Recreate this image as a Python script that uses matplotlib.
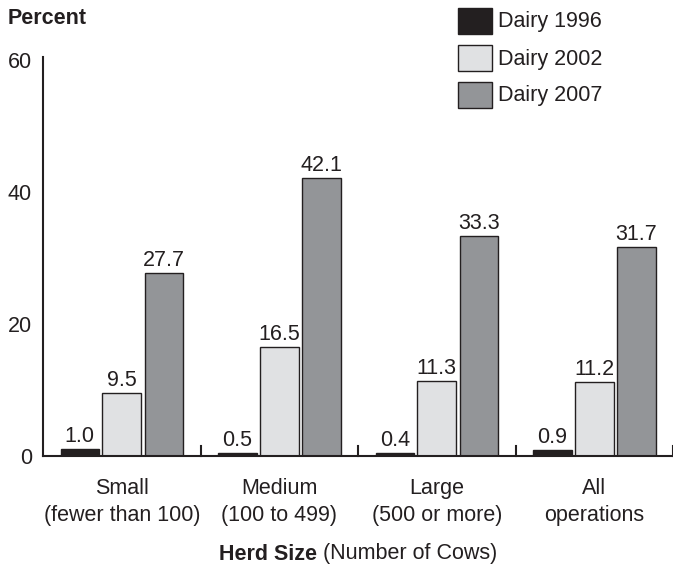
import numpy as np
import matplotlib
matplotlib.use('Agg')
import matplotlib.pyplot as plt
from matplotlib.patches import Rectangle

plt.rcParams['font.family'] = ['Liberation Sans', 'DejaVu Sans']

categories = ['Small\n(fewer than 100)', 'Medium\n(100 to 499)', 'Large\n(500 or more)', 'All\noperations']
series = ['Dairy 1996', 'Dairy 2002', 'Dairy 2007']
dairy_1996 = [1.0, 0.5, 0.4, 0.9]
dairy_2002 = [9.5, 16.5, 11.3, 11.2]
dairy_2007 = [27.7, 42.1, 33.3, 31.7]
colors = ['#231f20', '#e0e1e3', '#939598']
edge = '#231f20'
fs = 15.5

fig = plt.figure(figsize=(6.73, 5.69), dpi=100)
ax = fig.add_axes([43 / 673, 1 - 456 / 569, 1 - 43 / 673, (456 - 57) / 569])

x = np.arange(len(categories))
width = 0.245
offsets = [-0.266, 0.0, 0.268]
for vals, off, c in zip([dairy_1996, dairy_2002, dairy_2007], offsets, colors):
    bars = ax.bar(x + off, vals, width, color=c, edgecolor=edge, linewidth=1.0)
    for b, v in zip(bars, vals):
        ax.annotate(f'{v:.1f}', (b.get_x() + b.get_width() / 2, v),
                    xytext=(0, 1.5), textcoords='offset points',
                    ha='center', va='bottom', fontsize=fs, color='#231f20')

# small separators between herd sizes
for s in [0.5, 1.5, 2.5, 3.5]:
    ax.plot([s, s], [0, 1.5], color=edge, lw=1.5, clip_on=False)

ax.set_xlim(-0.5, 3.5)
ax.set_ylim(0, 60.5)
ax.set_yticks([0, 20, 40, 60])
ax.set_xticks(x)
ax.set_xticklabels(categories, fontsize=fs, color='#231f20', linespacing=1.35)
ax.tick_params(axis='y', length=0, pad=8, labelsize=fs, labelcolor='#231f20')
ax.tick_params(axis='x', length=0, pad=16)
for sp in ['top', 'right']:
    ax.spines[sp].set_visible(False)
for sp in ['left', 'bottom']:
    ax.spines[sp].set_linewidth(1.5)
    ax.spines[sp].set_color(edge)

fig.text(8 / 673, 1 - 18 / 569, 'Percent', fontsize=fs, fontweight='bold',
         color='#231f20', va='center', ha='left')

# legend drawn by hand
for i, (name, c) in enumerate(zip(series, colors)):
    yc = 21 + i * 37
    fig.patches.append(Rectangle((458 / 673, 1 - (yc + 13) / 569), 34 / 673, 26 / 569,
                                 transform=fig.transFigure, facecolor=c,
                                 edgecolor=edge, linewidth=1.0))
    fig.text(498 / 673, 1 - (yc + 1) / 569, name, fontsize=fs, color='#231f20',
             va='center', ha='left')

# x axis title: bold part + normal part, centred together
yl = 1 - 554 / 569
t1 = fig.text(0, yl, 'Herd Size', fontsize=fs, fontweight='bold', color='#231f20', va='center')
t2 = fig.text(0, yl, ' (Number of Cows)', fontsize=fs, color='#231f20', va='center')
fig.canvas.draw()
r = fig.canvas.get_renderer()
w1 = t1.get_window_extent(r).width
w2 = t2.get_window_extent(r).width
cx = 358
start = cx - (w1 + w2) / 2
t1.set_x(start / 673)
t2.set_x((start + w1) / 673)

fig.savefig('out.png', dpi=100)
